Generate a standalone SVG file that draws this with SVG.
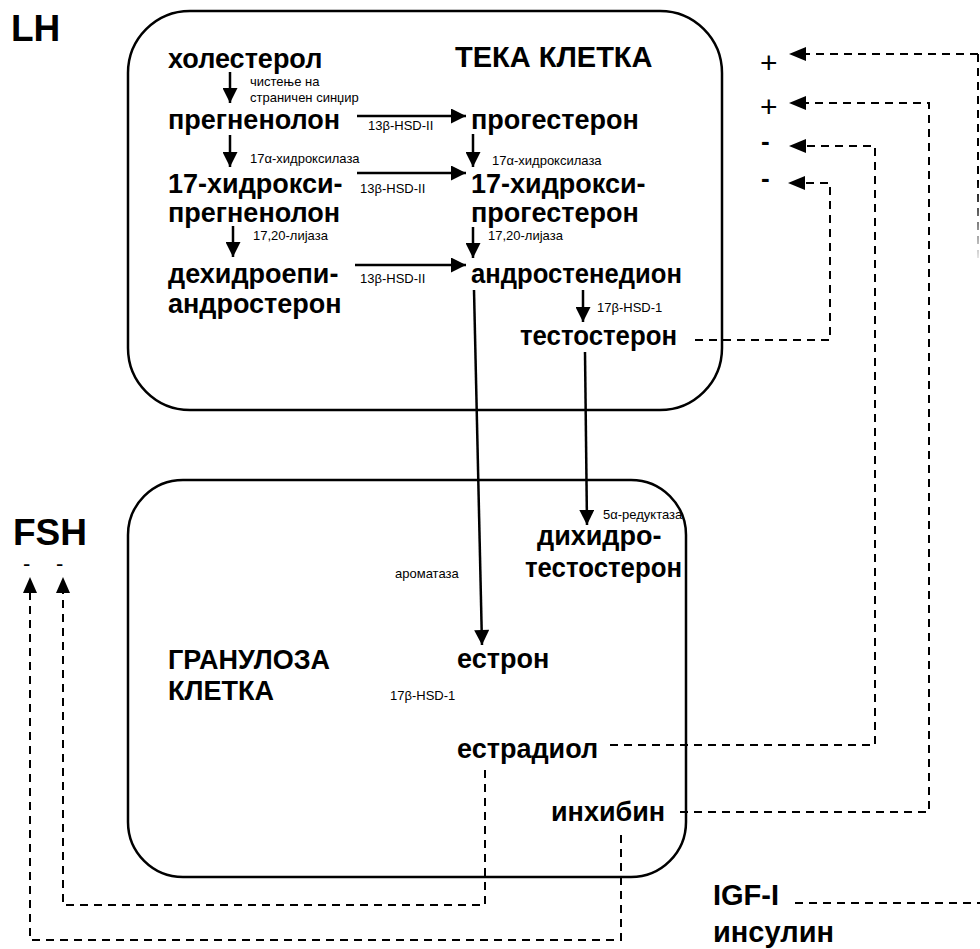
<svg xmlns="http://www.w3.org/2000/svg" width="980" height="949" viewBox="0 0 980 949">
<defs>
<style>
.big{font-family:"Liberation Sans",Arial,sans-serif;font-weight:bold;font-size:27px;fill:#000}
.hd{font-family:"Liberation Sans",Arial,sans-serif;font-weight:bold;font-size:37px;fill:#000}
.ttl{font-family:"Liberation Sans",Arial,sans-serif;font-weight:bold;font-size:29px;fill:#000}
.sm{font-family:"Liberation Sans",Arial,sans-serif;font-size:13px;fill:#000}
.sign{font-family:"Liberation Sans",Arial,sans-serif;font-size:30px;fill:#000}
.box{fill:none;stroke:#000;stroke-width:2.5}
.sol{fill:none;stroke:#000;stroke-width:2.5}
.dash{fill:none;stroke:#000;stroke-width:2;stroke-dasharray:8,6}
</style>
<marker id="ah" viewBox="0 0 10 10" refX="10" refY="5" markerUnits="userSpaceOnUse" markerWidth="17" markerHeight="15" orient="auto">
<path d="M0,0 L10,5 L0,10 Z" fill="#000"/>
</marker>
<linearGradient id="fade" gradientUnits="userSpaceOnUse" x1="0" y1="180" x2="0" y2="258">
<stop offset="0" stop-color="#000"/>
<stop offset="1" stop-color="#000" stop-opacity="0.1"/>
</linearGradient>
</defs>

<g id="theca-cell">
<rect class="box" x="128" y="11" width="594" height="399" rx="62" ry="62"/>
<text class="ttl" x="455" y="67">ТЕКА КЛЕТКА</text>
</g>
<g id="granulosa-cell">
<rect class="box" x="128" y="480" width="558" height="397" rx="55" ry="55"/>
<text class="big" x="168" y="669">ГРАНУЛОЗА</text>
<text class="big" x="168" y="700">КЛЕТКА</text>
</g>

<g id="LH"><text class="hd" x="11" y="41">LH</text></g>
<g id="FSH"><text class="hd" x="13" y="545">FSH</text>
<text class="sign" x="23" y="571" style="font-size:22px">-</text><text class="sign" x="56" y="571" style="font-size:22px">-</text></g>

<g id="cholesterol"><text class="big" x="168" y="68">холестерол</text></g>
<g id="pregnenolone"><text class="big" x="168" y="129">прегненолон</text></g>
<g id="progesterone"><text class="big" x="471" y="129">прогестерон</text></g>
<g id="hydroxypregnenolone"><text class="big" x="168" y="193">17-хидрокси-</text><text class="big" x="168" y="222">прегненолон</text></g>
<g id="hydroxyprogesterone"><text class="big" x="471" y="193">17-хидрокси-</text><text class="big" x="471" y="222">прогестерон</text></g>
<g id="dhea"><text class="big" x="168" y="283">дехидроепи-</text><text class="big" x="168" y="313">андростерон</text></g>
<g id="androstenedione"><text class="big" x="471" y="283" textLength="211" lengthAdjust="spacingAndGlyphs">андростенедион</text></g>
<g id="testosterone"><text class="big" x="520" y="345" textLength="157" lengthAdjust="spacingAndGlyphs">тестостерон</text></g>
<g id="dht"><text class="big" x="537" y="545">дихидро-</text><text class="big" x="525" y="577" textLength="157" lengthAdjust="spacingAndGlyphs">тестостерон</text></g>
<g id="estrone"><text class="big" x="457" y="668">естрон</text></g>
<g id="estradiol"><text class="big" x="457" y="758">естрадиол</text></g>
<g id="inhibin"><text class="big" x="551" y="821">инхибин</text></g>
<g id="igf"><text class="ttl" x="713" y="905">IGF-I</text><text class="ttl" x="713" y="942">инсулин</text></g>

<g id="signs">
<text class="sign" x="760" y="73">+</text>
<text class="sign" x="760" y="117">+</text>
<text class="sign" x="761" y="150" style="font-weight:bold;font-size:26px">-</text>
<text class="sign" x="761" y="187" style="font-weight:bold;font-size:26px">-</text>
</g>

<g id="labels">
<text class="sm" x="250" y="86">чистење на</text>
<text class="sm" x="250" y="102">страничен синџир</text>
<text class="sm" x="368" y="130">13β-HSD-II</text>
<text class="sm" x="250" y="163">17α-хидроксилаза</text>
<text class="sm" x="360" y="193">13β-HSD-II</text>
<text class="sm" x="253" y="240">17,20-лијаза</text>
<text class="sm" x="360" y="283">13β-HSD-II</text>
<text class="sm" x="492" y="165">17α-хидроксилаза</text>
<text class="sm" x="488" y="240">17,20-лијаза</text>
<text class="sm" x="597" y="312">17β-HSD-1</text>
<text class="sm" x="603" y="519">5α-редуктаза</text>
<text class="sm" x="395" y="578">ароматаза</text>
<text class="sm" x="390" y="700">17β-HSD-1</text>
</g>

<g id="connectors">
<line class="sol" x1="230" y1="72" x2="230" y2="103" marker-end="url(#ah)"/>
<line class="sol" x1="230" y1="135" x2="230" y2="167" marker-end="url(#ah)"/>
<line class="sol" x1="233" y1="226" x2="233" y2="257" marker-end="url(#ah)"/>
<line class="sol" x1="357" y1="116" x2="466" y2="116" marker-end="url(#ah)"/>
<line class="sol" x1="357" y1="173" x2="466" y2="173" marker-end="url(#ah)"/>
<line class="sol" x1="355" y1="265" x2="466" y2="265" marker-end="url(#ah)"/>
<line class="sol" x1="473" y1="134" x2="473" y2="167" marker-end="url(#ah)"/>
<line class="sol" x1="473" y1="227" x2="473" y2="258" marker-end="url(#ah)"/>
<line class="sol" x1="583" y1="290" x2="583" y2="322" marker-end="url(#ah)"/>
<line class="sol" x1="585" y1="352" x2="587" y2="525" marker-end="url(#ah)"/>
<line class="sol" x1="474" y1="290" x2="482" y2="645" marker-end="url(#ah)"/>

<polyline class="dash" points="695,340 830,340 830,183 796,183"/>
<polyline class="dash" points="610,745 875,745 875,146 792,146"/>
<polyline class="dash" points="680,812 929,812 929,103 792,103"/>
<polyline class="dash" points="795,903 980,903"/>
<polyline class="dash" points="978,54 792,54"/>
<line x1="978" y1="54" x2="978" y2="258" stroke="url(#fade)" stroke-width="2" stroke-dasharray="8,6"/>
<path d="M805,176 L788,183 L805,190 Z" fill="#000"/>
<path d="M806,139 L789,146 L806,153 Z" fill="#000"/>
<path d="M806,96 L789,103 L806,110 Z" fill="#000"/>
<path d="M806,47 L789,54 L806,61 Z" fill="#000"/>

<polyline class="dash" points="485,770 485,905 63,905 63,592"/>
<polyline class="dash" points="621,835 621,940 30,940 30,592"/>
<path d="M23,593 L30,577 L37,593 Z" fill="#000"/>
<path d="M56,593 L63,577 L70,593 Z" fill="#000"/>
</g>
</svg>
